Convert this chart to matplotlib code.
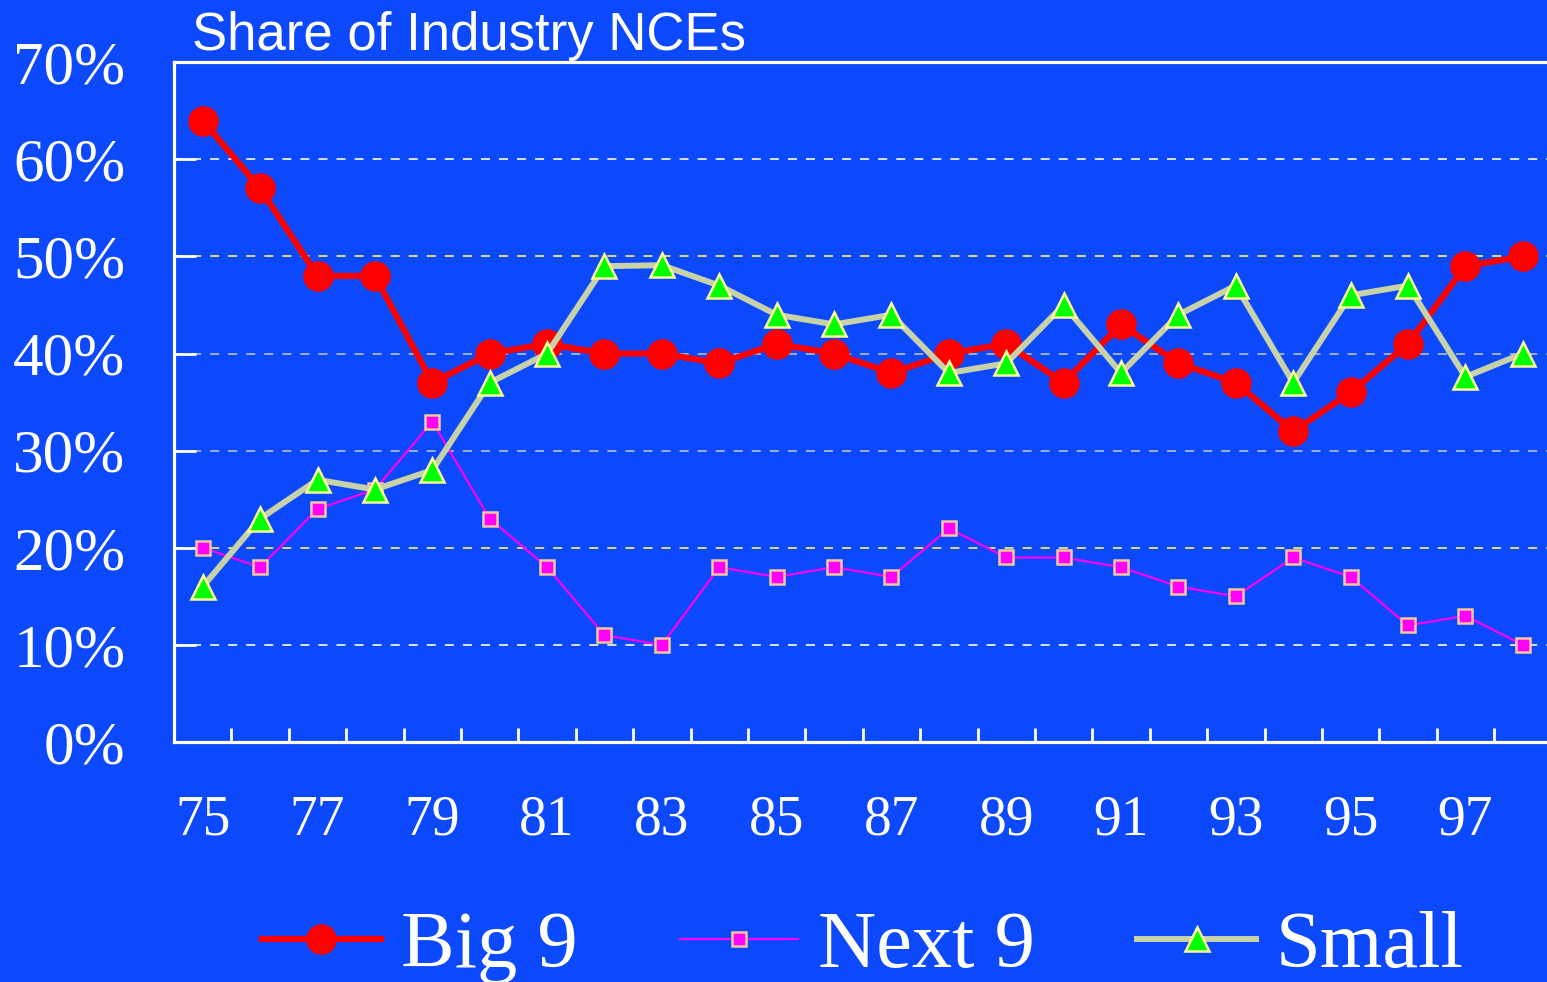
import matplotlib
matplotlib.use("Agg")
import matplotlib.pyplot as plt

# share of industry NCEs by company group, 1975-1998
years = list(range(75, 99))
big9 = [64, 57, 48, 48, 37, 40, 41, 40, 40, 39, 41, 40, 38, 40, 41, 37, 43, 39, 37, 32, 36, 41, 49, 50]
next9 = [20, 18, 24, 26, 33, 23, 18, 11, 10, 18, 17, 18, 17, 22, 19, 19, 18, 16, 15, 19, 17, 12, 13, 10]
small = [16, 23, 27, 26, 28, 37, 40, 49, 49.1, 47, 44, 43, 44, 38, 39, 45, 38, 44, 47, 37, 46, 47, 37.6, 40]

yticks = [0, 10, 20, 30, 40, 50, 60, 70]
ylabels = ["0%", "10%", "20%", "30%", "40%", "50%", "60%", "70%"]
xlabel_years = list(range(75, 99, 2))

bg = "#0c48fc"
serif = ["Liberation Serif", "DejaVu Serif"]
sans = ["Liberation Sans", "DejaVu Sans"]

fig = plt.figure(figsize=(15.47, 9.82), dpi=100, facecolor=bg)
ax = fig.add_axes([0.1125, 0.2444, 0.8904, 0.6922], facecolor=bg)

ax.plot(years, big9, color="#ff0000", lw=4.5, marker="o", ms=21,
        mfc="#ff0000", mec="#ff0000", label="Big 9", zorder=3)
ax.plot(years, next9, color="#ff00ff", lw=1.6, marker="s", ms=10,
        mfc="#ff00ff", mec="#f5c89a", mew=1.8, label="Next 9", zorder=4)
ax.plot(years, small, color="#c8d2a8", lw=4.3, marker="^", ms=17,
        mfc="#00ff00", mec="#ffff99", mew=1.8, label="Small", zorder=5)

ax.set_xlim(74.5, 98.5)
ax.set_ylim(0, 70)

# dashed gridlines in mixed tints like the original
grid_colors = {10: "#e8f0ff", 20: "#e8e870", 30: "#a8b8c8", 40: "#a8b8c8", 50: "#e8e870", 60: "#e8f0ff"}
for v, c in grid_colors.items():
    ax.axhline(v, color=c, lw=1.3, ls=(0, (5, 5)), zorder=1)

for s in ["left", "top", "bottom"]:
    ax.spines[s].set_color("white")
    ax.spines[s].set_linewidth(2.3)
ax.spines["right"].set_visible(False)

ax.set_yticks(yticks)
ax.set_yticklabels(ylabels, fontfamily=serif, fontsize=44, color="white")
ax.tick_params(axis="y", direction="in", length=16, width=2, color="white", pad=35)

ax.set_xticks(xlabel_years)
ax.set_xticklabels([str(y) for y in xlabel_years], fontfamily=serif, fontsize=40, color="white")
ax.set_xticks([y + 0.5 for y in range(75, 98)], minor=True)
ax.tick_params(axis="x", which="major", length=0, pad=38)
ax.tick_params(axis="x", which="minor", direction="in", length=10, width=2, color="white")

fig.text(192 / 1547, 1 - 50 / 982, "Share of Industry NCEs", fontfamily=sans,
         fontsize=38, color="white", va="baseline", ha="left")

leg = fig.legend(loc="center", bbox_to_anchor=(863 / 1547, 1 - 947 / 982), ncol=3,
                 frameon=False, prop={"family": serif, "size": 58},
                 handlelength=1.47, handletextpad=0.25, columnspacing=1.27)
for t in leg.get_texts():
    t.set_color("white")

fig.savefig("out.png", dpi=100, facecolor=bg)
